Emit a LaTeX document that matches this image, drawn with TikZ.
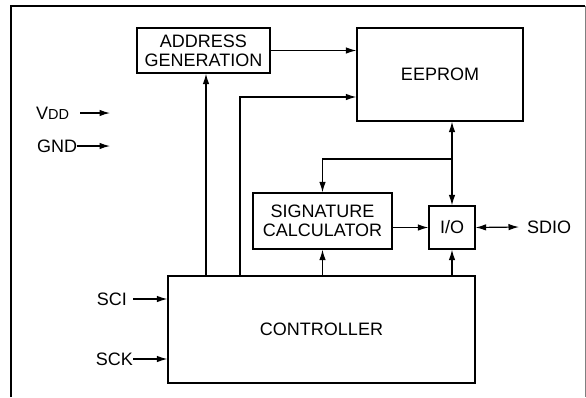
\documentclass[tikz,border=0pt]{standalone}
\usepackage{fontspec}
\setmainfont{Liberation Sans}
\usetikzlibrary{arrows.meta}
\begin{document}
\begin{tikzpicture}[x=1pt,y=-1pt,
  every node/.style={font=\fontsize{18}{19}\selectfont},
  blk/.style={draw, line width=1.2pt, inner sep=0pt, align=center},
  lbl/.style={inner sep=0pt},
  conn/.style={line width=1.2pt, -{Latex[length=10.5pt,width=6.5pt]}},
  conn2/.style={line width=1.2pt, {Latex[length=10.5pt,width=6.5pt]}-{Latex[length=10.5pt,width=6.5pt]}}]
\useasboundingbox (0,0) rectangle (586,397);
% frame
\draw[line width=2.2pt] (11,397) -- (11,6) -- (585,6);
\draw[gray, line width=1pt] (585,6) -- (585,397);
% blocks
\node[blk, minimum width=133pt, minimum height=45pt] (addr) at (203.5,50.5) {ADDRESS\\GENERATION};
\node[blk, minimum width=166pt, minimum height=93pt] (eeprom) at (440,74.5) {EEPROM};
\node[blk, minimum width=139pt, minimum height=56pt] (sig) at (322.5,221) {SIGNATURE\\CALCULATOR};
\node[blk, minimum width=46pt, minimum height=43pt] (io) at (452,227.5) {I/O};
\node[blk, minimum width=307pt, minimum height=107pt] (ctrl) at (321.5,329.5) {CONTROLLER};
% labels
\node[lbl, anchor=west] (vdd) at (36,113) {V{\fontsize{14.5}{14.5}\selectfont DD}};
\node[lbl, anchor=west] (gnd) at (37,146) {GND};
\node[lbl, anchor=east] (sci) at (127,299) {SCI};
\node[lbl, anchor=east] (sck) at (133,359) {SCK};
\node[lbl, anchor=west] (sdio) at (527,227) {SDIO};
\coordinate (vddend) at (110,113);
\coordinate (gndend) at (110,146);
\coordinate (br) at (452,159);
% connectors
\draw[conn] ([xshift=11pt]vdd.east) -- (vddend);
\draw[conn] (gnd.east) -- (gndend);
\draw[conn] (addr.east) -- (addr.east -| eeprom.west);
\draw[conn] (ctrl.north -| 206,0) -- (addr.south -| 206,0);
\draw[conn] (ctrl.north -| 240,0) |- (eeprom.west |- 0,97);
\draw[conn2] (eeprom.south -| io.north) -- (io.north);
\draw[conn] (br) -| (sig.north);
\draw[conn] (io.west -| sig.east) -- (io.west);
\draw[conn] (ctrl.north -| sig.south) -- (sig.south);
\draw[conn] (ctrl.north -| io.south) -- (io.south);
\draw[conn2] (io.east) -- ([xshift=-8pt]sdio.west);
\draw[conn] ([xshift=6pt]sci.east) -- (ctrl.west |- sci.east);
\draw[conn] (sck.east) -- (ctrl.west |- sck.east);
\end{tikzpicture}
\end{document}
